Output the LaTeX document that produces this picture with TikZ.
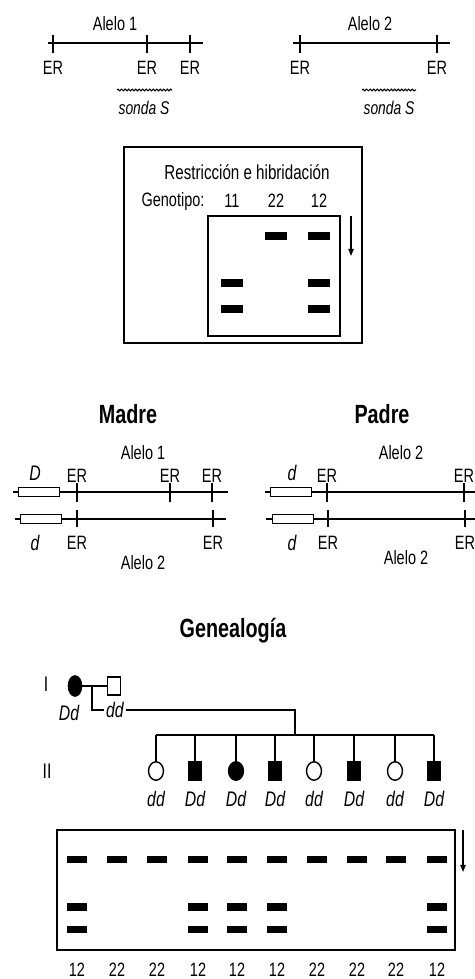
\documentclass[tikz,border=0pt]{standalone}
\usepackage{fontspec}
\setmainfont{Liberation Sans}[FakeStretch=0.75]
\usepackage{tikz}
\usetikzlibrary{arrows.meta,positioning,shapes.geometric,decorations.pathmorphing}
\definecolor{Ink}{HTML}{000000}
\tikzset{
 txt/.style={font=\fontsize{11}{13}\selectfont,inner sep=1pt,text=Ink},
 heading/.style={font=\fontsize{15}{17}\selectfont\bfseries,inner sep=1pt,text=Ink},
 geno/.style={font=\fontsize{12}{14}\selectfont\itshape,inner sep=1pt,text=Ink},
 probetxt/.style={font=\fontsize{10.5}{12}\selectfont\itshape,inner sep=1pt,text=Ink},
 dna/.style={draw=Ink,line width=0.9pt},
 cut/.style={draw=Ink,line width=0.9pt},
 probe/.style={draw=Ink,line width=0.6pt,decorate,decoration={snake,amplitude=0.5pt,segment length=2pt}},
 gene/.style={draw=Ink,fill=white,line width=0.8pt,minimum width=23.5pt,minimum height=5pt,inner sep=0pt},
 gel/.style={draw=Ink,line width=0.8pt},
 band/.style={fill=Ink,minimum width=13pt,minimum height=4pt,inner sep=0pt},
 sband/.style={band,minimum width=11.5pt},
 mig/.style={-{Triangle[length=4pt,width=3pt]},draw=Ink,line width=0.8pt},
 fem/.style={ellipse,draw=Ink,line width=0.8pt,minimum width=8.5pt,minimum height=10.5pt,inner sep=0pt},
 mal/.style={rectangle,draw=Ink,line width=0.8pt,minimum width=7.4pt,minimum height=10.2pt,inner sep=0pt},
 afem/.style={fem,fill=Ink},
 amal/.style={mal,fill=Ink},
 ped/.style={draw=Ink,line width=0.7pt}
}

\begin{document}
\begin{tikzpicture}[x=0.02cm,y=-0.02cm]
\useasboundingbox (0,0) rectangle (475,979);
% alelos y sonda
\node[txt] (al1) at (115,24) {Alelo 1};
\draw[dna] (48,43) -- (203,43);
\foreach \x [count=\i] in {53,147,190}{
  \draw[cut] (\x,35) -- (\x,53);
  \node[txt] (al1er\i) at (\x,68) {ER};}
\draw[probe] (117,90) -- (172,90);
\node[probetxt] (son1) at (144,108) {sonda S};
\node[txt] (al2) at (370,24) {Alelo 2};
\draw[dna] (293,43) -- (450,43);
\foreach \x [count=\i] in {300,437}{
  \draw[cut] (\x,35) -- (\x,53);
  \node[txt] (al2er\i) at (\x,68) {ER};}
\draw[probe] (362,90) -- (416,90);
\node[probetxt] (son2) at (389,108) {sonda S};
% gel de restriccion
\draw[gel] (124,147) rectangle (362,343);
\node[txt,font=\fontsize{11.5}{13}\selectfont] (rh) at (247,172) {Restricción e hibridación};
\node[txt] (gt) at (173,202) {Genotipo:};
\foreach \x/\g in {232/11,276/22,319/12}
  \node[txt] (gt\g) at (\x,201) {\g};
\draw[gel] (208,216) rectangle (340,336);
\foreach \x/\y [count=\i] in {232/283,232/309,276/236,319/236,319/283,319/309}
  \node[band] (b\i) at (\x,\y) {};
\coordinate (m1a) at (351,216);\coordinate (m1b) at (351,256);
\draw[mig] (m1a) -- (m1b);
% madre
\node[heading] (madre) at (128,414) {Madre};
\node[txt] (ma1) at (143,453) {Alelo 1};
\node[gene] (mD) at (39,492) {};
\node[geno] (mDl) at (35,473) {D};
\draw[dna] (13,492) -- (mD.west);\draw[dna] (mD.east) -- (228,492);
\foreach \x [count=\i] in {77,170,212}{
  \draw[cut] (\x,483) -- (\x,502);
  \node[txt] (mer\i) at (\x,476) {ER};}
\node[gene] (md) at (41,519) {};
\node[geno] (mdl) at (35,543) {d};
\draw[dna] (15,519) -- (md.west);\draw[dna] (md.east) -- (226,519);
\foreach \x [count=\i] in {77,213}{
  \draw[cut] (\x,510) -- (\x,527);
  \node[txt] (mer2\i) at (\x,543) {ER};}
\node[txt] (ma2) at (143,563) {Alelo 2};
% padre
\node[heading] (padre) at (382,414) {Padre};
\node[txt] (pa1) at (401,453) {Alelo 2};
\node[gene] (pd1) at (291,492) {};
\node[geno] (pd1l) at (292,473) {d};
\draw[dna] (265,492) -- (pd1.west);\draw[dna] (pd1.east) -- (475,492);
\foreach \x [count=\i] in {327,464}{
  \draw[cut] (\x,483) -- (\x,502);
  \node[txt] (per\i) at (\x,476) {ER};}
\node[gene] (pd2) at (293,519) {};
\node[geno] (pd2l) at (292,543) {d};
\draw[dna] (266,519) -- (pd2.west);\draw[dna] (pd2.east) -- (475,519);
\foreach \x [count=\i] in {328,465}{
  \draw[cut] (\x,510) -- (\x,527);
  \node[txt] (per2\i) at (\x,543) {ER};}
\node[txt] (pa2) at (406,558) {Alelo 2};
% genealogia
\node[heading] (gen) at (233,631) {Genealogía};
\node[txt,font=\fontsize{12}{14}\selectfont] (g1) at (46,684) {I};
\node[txt,font=\fontsize{12}{14}\selectfont] (g2) at (47,771) {II};
\node[afem,minimum width=7.5pt,minimum height=11.5pt] (I1) at (75,686) {};
\node[mal] (I2) at (114,686) {};
\node[geno] (I1g) at (69,713) {Dd};
\node[geno] (I2g) at (115,710) {dd};
\draw[ped] (I1) -- (I2);
\coordinate (mm) at (92,686);\coordinate (sib) at (295,735);
\draw[ped] (mm) |- (I2g.west);
\draw[ped] (I2g.east) -| (sib);
\foreach \x/\s/\g [count=\i] in {156/fem/dd,195/amal/Dd,236/afem/Dd,275/amal/Dd,
    314/fem/dd,354/amal/Dd,395/fem/dd,434/amal/Dd}{
  \node[\s] (k\i) at (\x,771) {};
  \node[geno] (k\i g) at (\x,799) {\g};
  \draw[ped] (k\i.north) -- (k\i.north |- sib);}
\draw[ped] (k1.north |- sib) -- (k8.north |- sib);
% gel familiar
\draw[gel] (57,830) rectangle (455,950);
\foreach \x/\g [count=\i] in {77/12,117/22,157/22,198/12,237/12,277/12,317/22,357/22,396/22,437/12}{
  \node[sband] (t\i) at (\x,859.5) {};
  \node[txt] (gl\i) at (\x,970) {\g};}
\foreach \x [count=\i] in {77,198,237,277,437}{
  \node[sband] (u\i) at (\x,907) {};
  \node[sband] (v\i) at (\x,929.5) {};}
\coordinate (m2a) at (463,830);\coordinate (m2b) at (463,872);
\draw[mig] (m2a) -- (m2b);
\end{tikzpicture}
\end{document}
